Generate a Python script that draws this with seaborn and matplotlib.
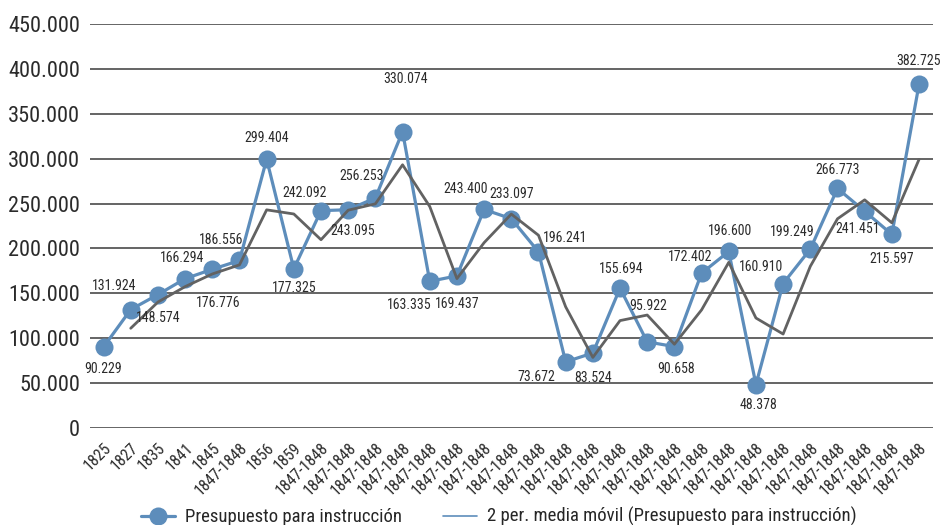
import matplotlib
matplotlib.use("Agg")
import matplotlib.pyplot as plt
from matplotlib.lines import Line2D
import seaborn as sns
import pandas as pd
import numpy as np

periods = ["1825", "1827", "1835", "1841", "1845", "1847-1848", "1856", "1859"] + ["1847-1848"] * 23
budget = [90229, 131924, 148574, 166294, 176776, 186556, 299404, 177325, 242092, 243095,
          256253, 330074, 163335, 169437, 243400, 233097, 196241, 73672, 83524, 155694,
          95922, 90658, 172402, 196600, 48378, 160910, 199249, 266773, 241451, 215597,
          382725]
y_ticks = [0, 50000, 100000, 150000, 200000, 250000, 300000, 350000, 400000, 450000]

# label placement (offset in points from each marker)
label_offsets = [(0, -16), (-12, 17), (0, -17), (-2, 15), (4, -24), (-13, 15), (0, 15),
                 (0, -14), (-12, 13), (3, -15), (-10, 16), (2, 38), (-15, -17), (0, -20),
                 (-13, 15), (0, 18), (19, 10), (-21, -11), (0, -18), (1, 14), (1, 26),
                 (1, -16), (-8, 12), (1, 15), (2, -15), (-16, 12), (-13, 12), (0, 13),
                 (-5, -13), (0, -18), (0, 17)]

def fmt(v):
    return f"{v:,.0f}".replace(",", ".")

sns.set_theme(style="white")
plt.rcParams["font.family"] = ["Roboto Condensed", "DejaVu Sans"]
plt.rcParams["font.stretch"] = "condensed"

df = pd.DataFrame({"pos": np.arange(len(budget)), "budget": budget})
df["ma"] = df["budget"].rolling(2).mean()

blue = "#5d8dbb"
grey = "#626262"
text_color = "#2b2b2b"

fig = plt.figure(figsize=(9.43, 5.25), dpi=100)
ax = fig.add_axes([0.0954, 0.1848, 0.8936, 0.7695])

for t in y_ticks:
    ax.axhline(t, color="#3a3a3a", lw=1.1, zorder=0)

sns.lineplot(data=df, x="pos", y="budget", ax=ax, color=blue, lw=2.3, marker="o",
             markersize=13, markeredgewidth=0, zorder=3)
sns.lineplot(data=df.dropna(), x="pos", y="ma", ax=ax, color=grey, lw=2.0, zorder=4)

for i, v in enumerate(budget):
    dx, dy = label_offsets[i]
    ax.annotate(fmt(v), (i, v), xytext=(dx, dy), textcoords="offset points",
                ha="center", va="center", fontsize=10, color=text_color, zorder=5)

ax.set_xlim(-0.5, len(budget) - 0.5)
ax.set_ylim(0, 450000)
ax.set_yticks(y_ticks)
ax.set_yticklabels([fmt(t) for t in y_ticks], fontsize=16, color=text_color)
ax.set_xticks(range(len(periods)))
ax.set_xticklabels(periods, rotation=45, ha="right", rotation_mode="anchor",
                   fontsize=11.5, color=text_color)
ax.tick_params(axis="both", length=0)
ax.tick_params(axis="x", pad=9)
ax.tick_params(axis="y", pad=7)
ax.set_xlabel("")
ax.set_ylabel("")
for s in ax.spines.values():
    s.set_visible(False)

handles = [
    Line2D([], [], color=blue, lw=2.3, marker="o", markersize=13, markeredgewidth=0),
    Line2D([], [], color=blue, lw=1.2),
]
fig.legend(handles, ["Presupuesto para instrucción",
                     "2 per. media móvil (Presupuesto para instrucción)"],
           loc="lower center", bbox_to_anchor=(0.529, -0.035), ncol=2, frameon=False,
           fontsize=13.5, handlelength=1.8, columnspacing=2.2, handletextpad=0.55)

fig.savefig("out.png", dpi=100)
